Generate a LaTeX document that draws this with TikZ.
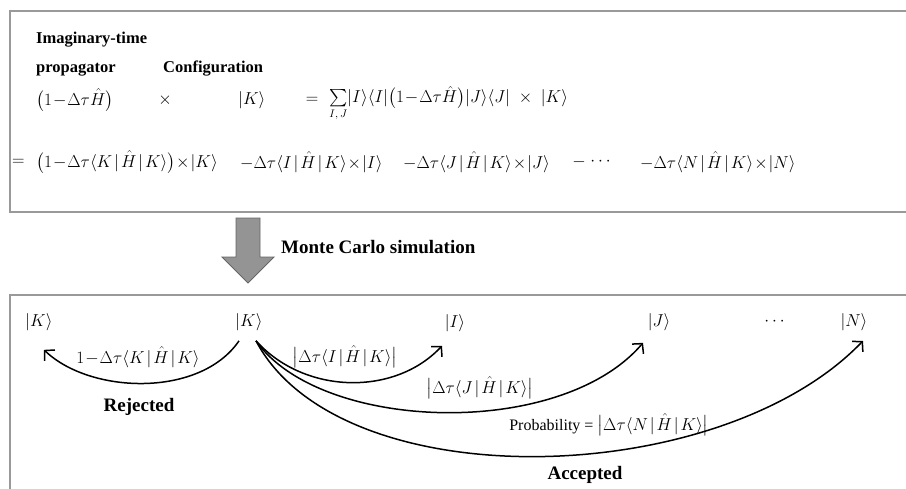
\documentclass[tikz,border=0pt]{standalone}
\usepackage{amsmath}
\usepackage{fontspec}
\setmainfont{Liberation Serif}
\usetikzlibrary{arrows.meta}
\newcommand{\kt}[1]{\lvert #1\rangle}
\newcommand{\mn}{\mkern1mu{-}\mkern1mu}
\newcommand{\mel}[1]{\langle #1\mkern2mu\vert\mkern2mu\hat{H}\mkern2mu\vert\mkern2mu K\rangle}
\newcommand{\tm}{\mkern1mu{\times}\mkern1mu}
\begin{document}
\begin{tikzpicture}[x=1pt,y=-1pt,
  txt/.style={inner sep=0pt,font=\fontsize{16}{20}\selectfont},
  lab/.style={inner sep=0pt,font=\fontsize{16.5}{20}\selectfont\bfseries},
  biglab/.style={inner sep=0pt,font=\fontsize{19}{22}\selectfont\bfseries},
  boxline/.style={draw=black!40,line width=1.8pt},
  arr/.style={line width=1.5pt,-{Straight Barb[length=7pt,width=15pt,line width=1.5pt]}}]
\useasboundingbox (0,0) rectangle (906,488);
\fill[white] (0,0) rectangle (906,488);
% boxes
\draw[boxline] (10,11) rectangle (920,212);
\draw[boxline] (10,295) rectangle (920,500);
% top box texts
\node[lab,anchor=base west] (l1) at (36,43.5) {Imaginary-time};
\node[lab,anchor=base west] (l2) at (36,72) {propagator};
\node[lab,anchor=base west] (l3) at (163,72) {Configuration};
\node[txt,anchor=west] (r1a) at (36,100) {$\bigl(1\mn\Delta\tau\hat{H}\bigr)$};
\node[txt] (r1b) at (165,100) {$\times$};
\node[txt,anchor=west] (r1c) at (238,100) {$\kt{K}$};
\node[txt] (r1d) at (312,100) {$=$};
\node[txt,anchor=west] (r1e) at (329,104) {$\sum\limits_{I,\,J}\kt{I}\langle I\rvert\bigl(1\mn\Delta\tau\hat{H}\bigr)\kt{J}\langle J\rvert\;\times\;\kt{K}$};
\node[txt,anchor=west] (r2a) at (12,162) {$=$};
\node[txt,anchor=west] (r2b) at (36,162) {$\bigl(1\mn\Delta\tau\mel{K}\bigr)\tm\kt{K}$};
\node[txt,anchor=west] (r2c) at (240,162) {$-\Delta\tau\mel{I}\tm\kt{I}$};
\node[txt,anchor=west] (r2d) at (403,162) {$-\Delta\tau\mel{J}\tm\kt{J}$};
\node[txt] (r2e) at (579,162) {$-$};
\node[txt] (r2f) at (602,162) {$\cdots$};
\node[txt,anchor=west] (r2g) at (640,162) {$-\Delta\tau\mel{N}\tm\kt{N}$};
% big arrow
\draw[fill=black!42,draw=black!60,line width=0.8pt] (236,218) -- (260,218) -- (260,257) -- (274,257) -- (248,283) -- (222,257) -- (236,257) -- cycle;
\node[biglab,anchor=west] (mc) at (281,247) {Monte Carlo simulation};
% bottom box
\node[txt] (kL) at (39,322) {$\kt{K}$};
\node[txt] (kM) at (249,322) {$\kt{K}$};
\node[txt] (kI) at (455,323) {$\kt{I}$};
\node[txt] (kJ) at (659,322) {$\kt{J}$};
\node[txt] (dd) at (776,322) {$\cdots$};
\node[txt] (kN) at (854,322) {$\kt{N}$};
\draw[arr] ([xshift=-10pt,yshift=-10pt]kM.south) .. controls (200,398) and (90,394) .. ([xshift=5pt,yshift=-19pt]kL.south);
\draw[arr] ([xshift=7pt,yshift=-10pt]kM.south) .. controls (305,395) and (395,396) .. ([xshift=-13pt,yshift=-14pt]kI.south);
\draw[arr] ([xshift=7pt,yshift=-10pt]kM.south) .. controls (320,432) and (560,440) .. ([xshift=-16pt,yshift=-12pt]kJ.south);
\draw[arr] ([xshift=7pt,yshift=-10pt]kM.south) .. controls (340,500) and (720,490) .. ([xshift=9pt,yshift=-10pt]kN.south);
\node[txt] (lr) at (138,357) {$1\mn\Delta\tau\mel{K}$};
\node[biglab] (rej) at (139,407) {Rejected};
\node[txt] (lI) at (345,357) {$\bigl\lvert\Delta\tau\mel{I}\bigr\rvert$};
\node[txt] (lJ) at (480,388) {$\bigl\lvert\Delta\tau\mel{J}\bigr\rvert$};
\node[txt] (lN) at (609,425) {Probability = $\bigl\lvert\Delta\tau\mel{N}\bigr\rvert$};
\node[biglab] (acc) at (585,475) {Accepted};
\end{tikzpicture}
\end{document}
